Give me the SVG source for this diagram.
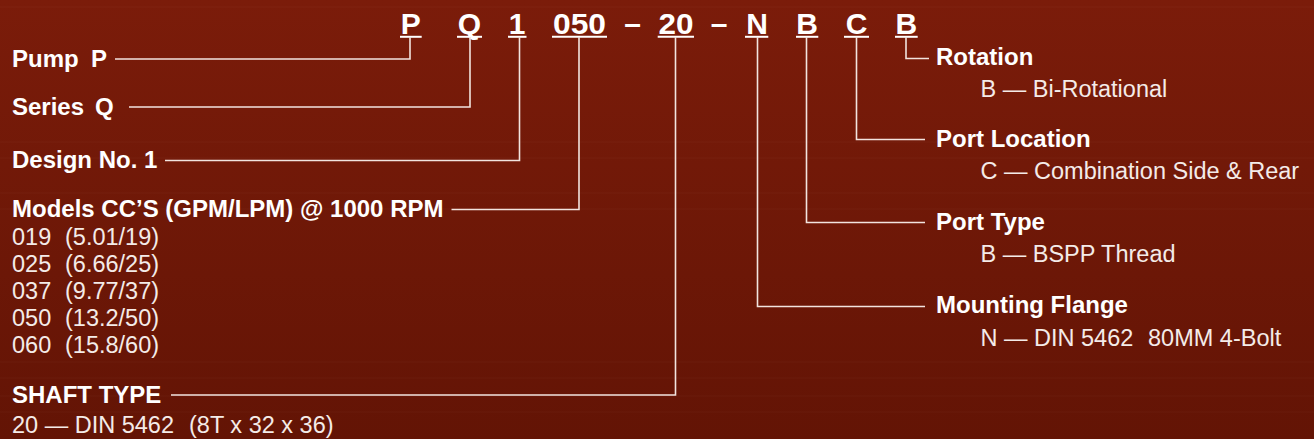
<svg xmlns="http://www.w3.org/2000/svg" width="1314" height="439" viewBox="0 0 1314 439">
  <defs>
    <linearGradient id="bg" x1="0" y1="0" x2="0" y2="1">
      <stop offset="0" stop-color="#7b1c0a"/>
      <stop offset="1" stop-color="#631405"/>
    </linearGradient>
    <style>
      .code { font-family: "Liberation Sans", Arial, sans-serif; font-weight: bold; font-size: 30px; fill: #ffffff; text-anchor: middle; }
      .lbl { font-family: "Liberation Sans", Arial, sans-serif; font-weight: bold; font-size: 24px; fill: #ffffff; }
      .val { font-family: "Liberation Sans", Arial, sans-serif; font-size: 23.5px; fill: #f4ebe8; }
      .ul { stroke: #ffffff; stroke-width: 2; fill: none; }
      .conn { stroke: #f2e4df; stroke-width: 1.6; fill: none; }
      .band { stroke: #ffffff; stroke-opacity: 0.035; stroke-width: 1; }
    </style>
  </defs>
  <rect x="0" y="0" width="1314" height="439" fill="url(#bg)"/>
  <g id="bands">
    <line class="band" x1="0" y1="7" x2="1314" y2="7"/>
    <line class="band" x1="0" y1="142" x2="1314" y2="142"/>
    <line class="band" x1="0" y1="158" x2="1314" y2="158"/>
    <line class="band" x1="0" y1="193" x2="1314" y2="193"/>
    <line class="band" x1="0" y1="209" x2="1314" y2="209"/>
    <line class="band" x1="0" y1="362" x2="1314" y2="362"/>
    <line class="band" x1="0" y1="378" x2="1314" y2="378"/>
    <line class="band" x1="0" y1="396" x2="1314" y2="396"/>
    <line class="band" x1="0" y1="412" x2="1314" y2="412"/>
  </g>

  <g id="model-code">
    <text class="code" x="410.8" y="34">P</text>
    <text class="code" x="469.5" y="34">Q</text>
    <text class="code" x="517" y="34">1</text>
    <text class="code" x="579.5" y="34" textLength="53" lengthAdjust="spacingAndGlyphs">050</text>
    <text class="code" x="632.5" y="34">–</text>
    <text class="code" x="676" y="34" textLength="35" lengthAdjust="spacingAndGlyphs">20</text>
    <text class="code" x="719" y="34">–</text>
    <text class="code" x="757" y="34">N</text>
    <text class="code" x="807" y="34">B</text>
    <text class="code" x="856.5" y="34">C</text>
    <text class="code" x="906.3" y="34">B</text>
    <line class="ul" x1="400" y1="36.8" x2="421.7" y2="36.8"/>
    <line class="ul" x1="457" y1="36.8" x2="482" y2="36.8"/>
    <line class="ul" x1="508" y1="36.8" x2="526.5" y2="36.8"/>
    <line class="ul" x1="552" y1="36.8" x2="607" y2="36.8"/>
    <line class="ul" x1="657.7" y1="36.8" x2="694" y2="36.8"/>
    <line class="ul" x1="745" y1="36.8" x2="768.3" y2="36.8"/>
    <line class="ul" x1="796" y1="36.8" x2="818.3" y2="36.8"/>
    <line class="ul" x1="844" y1="36.8" x2="869" y2="36.8"/>
    <line class="ul" x1="895" y1="36.8" x2="917.7" y2="36.8"/>
  </g>

  <g id="connectors">
    <polyline class="conn" points="410,37 410,59 115,59"/>
    <polyline class="conn" points="470,37 470,107 129,107"/>
    <polyline class="conn" points="519.5,37 519.5,160.5 165,160.5"/>
    <polyline class="conn" points="579,37 579,209.5 451.5,209.5"/>
    <polyline class="conn" points="675.5,37 675.5,395 171,395"/>
    <polyline class="conn" points="757.5,37 757.5,306.5 925,306.5"/>
    <polyline class="conn" points="806.5,37 806.5,222.5 925,222.5"/>
    <polyline class="conn" points="856.5,37 856.5,139.5 925,139.5"/>
    <polyline class="conn" points="906,37 906,58.5 929,58.5"/>
  </g>

  <g id="pump">
    <text class="lbl" x="12" y="66.5">Pump<tspan x="91">P</tspan></text>
  </g>
  <g id="series">
    <text class="lbl" x="12" y="114.5">Series<tspan x="95">Q</tspan></text>
  </g>
  <g id="design">
    <text class="lbl" x="12" y="168">Design No. 1</text>
  </g>
  <g id="models">
    <text class="lbl" x="12" y="217">Models CC’S (GPM/LPM) @ 1000 RPM</text>
    <text class="val" x="12" y="245">019<tspan x="65">(5.01/19)</tspan></text>
    <text class="val" x="12" y="271.9">025<tspan x="65">(6.66/25)</tspan></text>
    <text class="val" x="12" y="298.8">037<tspan x="65">(9.77/37)</tspan></text>
    <text class="val" x="12" y="325.7">050<tspan x="65">(13.2/50)</tspan></text>
    <text class="val" x="12" y="352.6">060<tspan x="65">(15.8/60)</tspan></text>
  </g>
  <g id="shaft-type">
    <text class="lbl" x="12" y="402.5">SHAFT TYPE</text>
    <text class="val" x="12" y="433">20 — DIN 5462<tspan x="189">(8T x 32 x 36)</tspan></text>
  </g>

  <g id="rotation">
    <text class="lbl" x="936" y="65">Rotation</text>
    <text class="val" x="980.5" y="96.7">B — Bi-Rotational</text>
  </g>
  <g id="port-location">
    <text class="lbl" x="936" y="146.7">Port Location</text>
    <text class="val" x="980.5" y="179.3">C — Combination Side &amp; Rear</text>
  </g>
  <g id="port-type">
    <text class="lbl" x="936" y="230">Port Type</text>
    <text class="val" x="980.5" y="261.7">B — BSPP Thread</text>
  </g>
  <g id="mounting-flange">
    <text class="lbl" x="936" y="313.3">Mounting Flange</text>
    <text class="val" x="980.5" y="346">N — DIN 5462<tspan x="1148">80MM 4-Bolt</tspan></text>
  </g>
</svg>
